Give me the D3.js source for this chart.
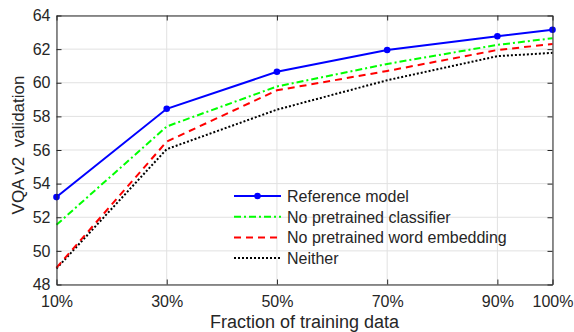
<!DOCTYPE html>
<html><head><meta charset="utf-8">
<script src="https://cdn.jsdelivr.net/npm/d3@7"></script>
<style>body{margin:0;background:#fff;} svg{display:block;font-family:"Liberation Sans",Arial,sans-serif;}</style>
</head><body>
<svg id="c" width="574" height="332"></svg>
<script>
const fractions = [10, 30, 50, 70, 90, 100];
const xTickLabels = ["10%", "30%", "50%", "70%", "90%", "100%"];
const yTicks = [48, 50, 52, 54, 56, 58, 60, 62, 64];
const seriesNames = ["Reference model", "No pretrained classifier", "No pretrained word embedding", "Neither"];
const referenceModel = [53.2, 58.45, 60.65, 61.95, 62.77, 63.15];
const noPretrainedClassifier = [51.55, 57.4, 59.78, 61.12, 62.25, 62.65];
const noPretrainedWordEmbedding = [49.0, 56.5, 59.55, 60.7, 61.95, 62.3];
const neither = [48.95, 56.05, 58.4, 60.15, 61.58, 61.78];

const series = [
  {name: seriesNames[0], values: referenceModel, color: "#0000ff", dash: null, marker: true},
  {name: seriesNames[1], values: noPretrainedClassifier, color: "#00ff00", dash: "7,3,2,3", marker: false},
  {name: seriesNames[2], values: noPretrainedWordEmbedding, color: "#ff0000", dash: "7,5", marker: false},
  {name: seriesNames[3], values: neither, color: "#000000", dash: "2,2", marker: false}
];

const svg = d3.select("#c");
const L = 56.5, R = 552.5, T = 15.5, B = 284.5;
const x = d3.scaleLinear().domain([10, 100]).range([L, R]);
const y = d3.scaleLinear().domain([48, 64]).range([B, T]);
const axisColor = "#262626";
const fontFam = "\"Liberation Sans\",Arial,sans-serif";

// grid
const g = svg.append("g");
g.selectAll(".gx").data(fractions).enter().append("line")
  .attr("x1", d => x(d)).attr("x2", d => x(d)).attr("y1", T).attr("y2", B)
  .attr("stroke", "#e1e1e1").attr("stroke-width", 1);
g.selectAll(".gy").data(yTicks).enter().append("line")
  .attr("x1", L).attr("x2", R).attr("y1", d => y(d)).attr("y2", d => y(d))
  .attr("stroke", "#e1e1e1").attr("stroke-width", 1);

// axes
const xAxis = d3.axisBottom(x).tickValues(fractions).tickFormat((d, i) => xTickLabels[i]).tickSizeInner(-5).tickSizeOuter(0).tickPadding(11);
const yAxis = d3.axisLeft(y).tickValues(yTicks).tickFormat(d3.format("d")).tickSizeInner(-5).tickSizeOuter(0).tickPadding(6);
const xTop = d3.axisTop(x).tickValues(fractions).tickFormat("").tickSizeInner(-5).tickSizeOuter(0);
const yRight = d3.axisRight(y).tickValues(yTicks).tickFormat("").tickSizeInner(-5).tickSizeOuter(0);

function style(sel) {
  sel.selectAll("path").attr("stroke", axisColor).attr("stroke-width", 1);
  sel.selectAll("line").attr("stroke", axisColor).attr("stroke-width", 1);
  sel.selectAll("text").attr("fill", axisColor).style("font-size", "16px").style("font-family", fontFam);
}

// lines
const line = d3.line().x((d, i) => x(fractions[i])).y(d => y(d));
const lg = svg.append("g");
series.slice().reverse().forEach(s => {
  lg.append("path").datum(s.values).attr("d", line)
    .attr("fill", "none").attr("stroke", s.color).attr("stroke-width", 2)
    .attr("stroke-dasharray", s.dash);
  if (s.marker) {
    lg.selectAll(null).data(s.values).enter().append("circle")
      .attr("cx", (d, i) => x(fractions[i])).attr("cy", d => y(d)).attr("r", 3.3)
      .attr("fill", s.color);
  }
});

svg.append("g").attr("transform", `translate(0,${B})`).call(xAxis).call(style);
svg.append("g").attr("transform", `translate(${L},0)`).call(yAxis).call(style);
svg.append("g").attr("transform", `translate(0,${T})`).call(xTop).call(style);
svg.append("g").attr("transform", `translate(${R},0)`).call(yRight).call(style);

// axis titles
svg.append("text").attr("x", 304.5).attr("y", 328).attr("text-anchor", "middle")
  .attr("fill", axisColor).style("font-size", "18px").text("Fraction of training data");
svg.append("text").attr("transform", `translate(24,145) rotate(-90)`).attr("text-anchor", "middle")
  .attr("fill", axisColor).style("font-size", "17px").style("white-space", "pre").attr("xml:space", "preserve").text("VQA v2  validation");

// legend
const leg = svg.append("g").attr("transform", "translate(234,196)");
series.forEach((s, i) => {
  const yy = i * 20.7;
  leg.append("line").attr("x1", 0).attr("x2", 47).attr("y1", yy).attr("y2", yy)
    .attr("stroke", s.color).attr("stroke-width", 2).attr("stroke-dasharray", s.dash);
  if (s.marker) leg.append("circle").attr("cx", 23.5).attr("cy", yy).attr("r", 3.3).attr("fill", s.color);
  leg.append("text").attr("x", 53).attr("y", yy + 5.8).attr("fill", axisColor)
    .style("font-size", "16px").text(s.name);
});
</script>
</body></html>
